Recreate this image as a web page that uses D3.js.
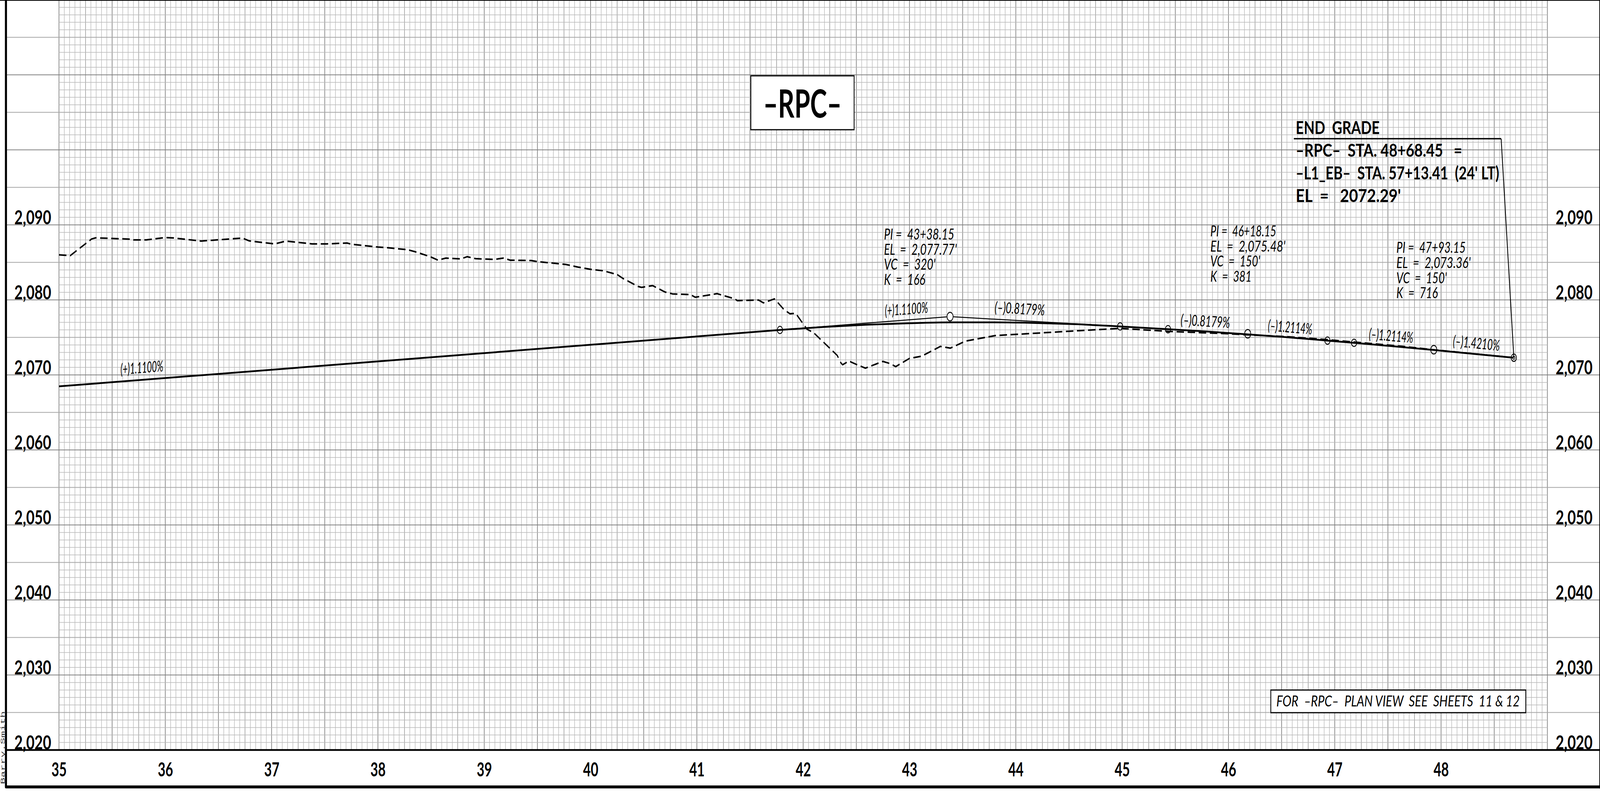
<!DOCTYPE html>
<html>
<head>
<meta charset="utf-8">
<script src="https://d3js.org/d3.v7.min.js"></script>
<style>
    html, body { margin: 0; padding: 0; background: #fff; overflow: hidden; }
    svg { display: block; }
    text { white-space: pre; fill: #000; }
</style>
</head>
<body>
<script>
// finished grade, station (x100 ft) / elevation (ft)
var gradeStations = [35, 41.78, 42.2, 42.6, 43, 43.4, 43.8, 44.2, 44.6, 44.98, 45.43, 45.8, 46.18, 46.55, 46.93, 47.18, 47.55, 47.93, 48.3, 48.68];
var gradeElevs = [2068.47, 2075.99, 2076.39, 2076.69, 2076.89, 2077.0, 2077.0, 2076.92, 2076.74, 2076.46, 2076.09, 2075.78, 2075.41, 2075.02, 2074.57, 2074.27, 2073.82, 2073.32, 2072.81, 2072.29];

// tangents through the PIs
var tangentStations = [41.78, 43.3815, 44.98];
var tangentElevs = [2075.99, 2077.77, 2076.46];

// existing ground, dashed
var groundStations = [35, 35.106, 35.307, 35.344, 35.667, 35.7, 35.82, 36, 36.08, 36.336, 36.725, 36.79, 37.03, 37.135, 37.38, 37.52, 37.71, 37.75, 38, 38.09, 38.275, 38.35, 38.49, 38.565, 38.64, 38.78, 38.84, 38.92, 39.1, 39.18, 39.245, 39.44, 39.5, 39.765, 39.88, 40, 40.12, 40.25, 40.3, 40.445, 40.48, 40.585, 40.7, 40.77, 40.94, 40.985, 41.19, 41.357, 41.38, 41.58, 41.626, 41.73, 41.82, 41.875, 41.93, 42.035, 42.1, 42.32, 42.355, 42.37, 42.43, 42.5, 42.585, 42.75, 42.82, 42.87, 43, 43.115, 43.29, 43.385, 43.525, 43.81, 44, 44.6, 44.98, 45.44, 45.98, 46.18, 46.55, 46.93, 47.17, 47.64, 47.93, 48.68];
var groundElevs = [2086, 2085.9, 2088.12, 2088.27, 2088.1, 2088, 2088, 2088.3, 2088.25, 2087.84, 2088.24, 2087.86, 2087.46, 2087.84, 2087.46, 2087.46, 2087.58, 2087.42, 2087.04, 2086.95, 2086.7, 2086.42, 2085.77, 2085.3, 2085.57, 2085.46, 2085.76, 2085.49, 2085.4, 2085.57, 2085.29, 2085.25, 2085.1, 2084.73, 2084.38, 2084.07, 2083.88, 2083.38, 2082.9, 2081.8, 2081.67, 2081.9, 2081.05, 2080.8, 2080.7, 2080.35, 2080.83, 2080.14, 2079.9, 2079.98, 2079.6, 2080.14, 2078.7, 2078.15, 2078.2, 2076.1, 2075.6, 2072.6, 2071.6, 2071.35, 2071.85, 2071.4, 2070.9, 2071.8, 2071.5, 2071.1, 2072.2, 2072.5, 2073.8, 2073.57, 2074.5, 2075.25, 2075.4, 2075.9, 2076.2, 2075.8, 2075.5, 2075.34, 2075.1, 2074.7, 2074.4, 2073.8, 2073.35, 2072.3];

// circles on the profile: BVC / PI / EVC
var markStations = [41.7815, 43.3815, 44.9815, 45.4315, 46.1815, 46.9315, 47.1815, 47.9315, 48.6845];
var markElevs = [2075.99, 2077.77, 2076.46, 2076.09, 2075.48, 2074.57, 2074.27, 2073.36, 2072.29];
var markIsPi = [false, true, false, false, true, false, false, true, false];

// vertical curve data
var piStations = ["43+38.15", "46+18.15", "47+93.15"];
var piElevs = ["2,077.77'", "2,075.48'", "2,073.36'"];
var piCurves = ["320'", "150'", "150'"];
var piKs = ["166", "381", "716"];
var piLabelStations = [42.76, 45.83, 47.58];
var piLabelElevs = [2088.05, 2088.46, 2086.27];

// grade labels
var gradeLabels = ["(+)1.1100%", "(+)1.1100%", "(\u2013)0.8179%", "(\u2013)0.8179%", "(\u2013)1.2114%", "(\u2013)1.2114%", "(\u2013)1.4210%"];
var gradeValues = [1.11, 1.11, -0.8179, -0.8179, -1.2114, -1.2114, -1.421];
var gradeLabelStations = [35.58, 42.77, 43.80, 45.55, 46.37, 47.32, 48.11];
var gradeLabelElevs = [2070.03, 2077.84, 2078.31, 2076.64, 2075.9, 2074.76, 2073.83];

var endGradeLines = ["END  GRADE", "\u2013RPC\u2013  STA. 48+68.45   =", "\u2013L1_EB\u2013  STA. 57+13.41  (24' LT)", "EL  =   2072.29'"];
var endLeaderStations = [46.615, 48.565, 48.6845];
var endLeaderElevs = [2101.48, 2101.48, 2072.29];

var stationTicks = d3.range(35, 49);
var elevTicks = d3.range(2020, 2100, 10);

// the drawing is laid out in sheet units, the viewBox fits it to the window
var width = 5779, height = 2027;
var plot = { left: 213, right: 5589, top: -0.5, bottom: 1919.5 };
var labelFont = "Lato, 'Noto Sans', sans-serif";

var x = d3.scaleLinear().domain([35, 49]).range([plot.left, plot.right]);
var y = d3.scaleLinear().domain([2020, 2120]).range([plot.bottom, plot.top]);

var svg = d3.select("body").append("svg")
    .attr("width", window.innerWidth)
    .attr("height", window.innerHeight)
    .attr("viewBox", "0 0 " + width + " " + height)
    .attr("preserveAspectRatio", "none");

svg.append("rect").attr("width", width).attr("height", height).attr("fill", "#fff");

// small user name down the left margin
svg.append("text")
    .attr("transform", "translate(17.5,2007) rotate(-90)")
    .attr("font-family", "'Liberation Mono', monospace")
    .attr("font-size", 21)
    .attr("textLength", 187)
    .attr("lengthAdjust", "spacingAndGlyphs")
    .attr("opacity", 0.8)
    .text("Barry.Smith");

// grid paper: 5 ft by 1 ft cells
var grid = svg.append("g").attr("fill", "none");

function vStyle(i) {
    if (i % 10 == 0) return { c: "#7f7f7f", w: 2.4 };
    if (i % 5 == 0) return { c: "#9a9a9a", w: 2.2 };
    return { c: "#b8b8b8", w: 1.9 };
}
function hStyle(i) {
    if (i % 10 == 0) return { c: "#808080", w: 2.2 };
    if (i % 5 == 0) return { c: "#a6a6a6", w: 2 };
    return { c: "#b8b8b8", w: 1.5 };
}

grid.selectAll("line.v")
    .data(d3.range(0, 281))
    .enter().append("line")
    .attr("class", "v")
    .attr("x1", function(d) { return x(35 + d * 0.05); })
    .attr("x2", function(d) { return x(35 + d * 0.05); })
    .attr("y1", 0)
    .attr("y2", plot.bottom)
    .attr("stroke", function(d) { return vStyle(d).c; })
    .attr("stroke-width", function(d) { return vStyle(d).w; });

grid.selectAll("line.h")
    .data(d3.range(0, 100))
    .enter().append("line")
    .attr("class", "h")
    .attr("x1", function(d) { return d % 5 == 0 ? 25 : plot.left; })
    .attr("x2", function(d) { return d % 5 == 0 ? width : plot.right; })
    .attr("y1", function(d) { return y(2020 + d); })
    .attr("y2", function(d) { return y(2020 + d); })
    .attr("stroke", function(d) { return hStyle(d).c; })
    .attr("stroke-width", function(d) { return hStyle(d).w; });

// axes
function styleAxis(g, len, dx, dy, anchor) {
    g.select(".domain").remove();
    g.selectAll(".tick line").remove();
    g.attr("font-family", labelFont).attr("font-size", 49);
    g.selectAll(".tick text")
        .attr("x", dx)
        .attr("y", dy)
        .attr("dy", 0)
        .attr("text-anchor", anchor)
        .attr("font-weight", 700)
        .attr("textLength", len)
        .attr("lengthAdjust", "spacingAndGlyphs");
}

svg.append("g")
    .attr("transform", "translate(" + plot.left + ",0)")
    .call(d3.axisLeft(y).tickValues(elevTicks).tickFormat(d3.format(",")))
    .call(styleAxis, 133, -161, -2, "start");

svg.append("g")
    .attr("transform", "translate(" + plot.right + ",0)")
    .call(d3.axisRight(y).tickValues(elevTicks).tickFormat(d3.format(",")))
    .call(styleAxis, 133, 30, -2, "start");

svg.append("g")
    .attr("transform", "translate(0," + plot.bottom + ")")
    .call(d3.axisBottom(x).tickValues(stationTicks).tickFormat(d3.format("d")))
    .call(styleAxis, 55, 0, 67.5, "middle");

// helper for the thin slanted CAD lettering
function cadText(g, str, px, py, size, len) {
    return g.append("text")
        .attr("x", px)
        .attr("y", py)
        .attr("font-family", labelFont)
        .attr("font-size", size)
        .attr("font-style", "italic")
        .attr("font-weight", 400)
        .attr("textLength", len)
        .attr("lengthAdjust", "spacingAndGlyphs")
        .text(str);
}

var pts = function(xs, ys) {
    return xs.map(function(d, i) { return [d, ys[i]]; });
};
var line = d3.line().x(function(d) { return x(d[0]); }).y(function(d) { return y(d[1]); });

// existing ground
svg.append("path")
    .attr("d", line(pts(groundStations, groundElevs)))
    .attr("fill", "none")
    .attr("stroke", "#000")
    .attr("stroke-width", 4)
    .attr("stroke-dasharray", "27,13")
    .attr("stroke-linejoin", "round");

// tangents
svg.append("path")
    .attr("d", line(pts(tangentStations, tangentElevs)))
    .attr("fill", "none")
    .attr("stroke", "#000")
    .attr("stroke-width", 2.5);

// finished grade
svg.append("path")
    .attr("d", line.curve(d3.curveMonotoneX)(pts(gradeStations, gradeElevs)))
    .attr("fill", "none")
    .attr("stroke", "#000")
    .attr("stroke-width", 4.5);
line.curve(d3.curveLinear);

// end of grade leader
svg.append("path")
    .attr("d", line(pts(endLeaderStations.slice(1), endLeaderElevs.slice(1))))
    .attr("fill", "none")
    .attr("stroke", "#000")
    .attr("stroke-width", 3);
svg.append("line")
    .attr("x1", x(endLeaderStations[0]))
    .attr("x2", x(endLeaderStations[1]))
    .attr("y1", y(endLeaderElevs[0]))
    .attr("y2", y(endLeaderElevs[0]))
    .attr("stroke", "#000")
    .attr("stroke-width", 3.5);

// circles on the profile
svg.selectAll("circle.mark")
    .data(markStations)
    .enter().append("circle")
    .attr("class", "mark")
    .attr("cx", function(d) { return x(d); })
    .attr("cy", function(d, i) { return y(markElevs[i]); })
    .attr("r", function(d, i) { return markIsPi[i] ? 11 : 9.5; })
    .attr("fill", function(d, i) { return i == 1 ? "#fff" : "none"; })
    .attr("stroke", "#000")
    .attr("stroke-width", 2.5);
svg.append("circle")
    .attr("cx", x(markStations[8]))
    .attr("cy", y(markElevs[8]))
    .attr("r", 4)
    .attr("fill", "none")
    .attr("stroke", "#000")
    .attr("stroke-width", 2);

// PI notes
var piWidths = [[254, 263, 186, 149], [238, 271, 180, 149], [250, 268, 182, 150]];
piStations.forEach(function(s, i) {
    var g = svg.append("g");
    var rows = ["PI =  " + s, "EL  =  " + piElevs[i], "VC  =  " + piCurves[i], "K  =  " + piKs[i]];
    rows.forEach(function(r, j) {
        cadText(g, r, x(piLabelStations[i]), y(piLabelElevs[i]) + j * 38.7, 39, piWidths[i][j]);
    });
});

// grade labels sit on the same slope as the line they describe
var gradeWidths = [155, 156, 181, 178, 160, 160, 169];
gradeLabels.forEach(function(s, i) {
    var a = -Math.atan(gradeValues[i] * 19.2 / 384) * 180 / Math.PI;
    var px = x(gradeLabelStations[i]), py = y(gradeLabelElevs[i]);
    cadText(svg, s, px, py, 39, gradeWidths[i])
        .attr("transform", "rotate(" + a + "," + px + "," + py + ")");
});

// END GRADE note
var endLabelBase = [343, 401, 458.6, 517], endLabelLen = [303, 601, 735, 380];
endGradeLines.forEach(function(s, i) {
    svg.append("text")
        .attr("x", 4680)
        .attr("y", endLabelBase[i])
        .attr("font-family", labelFont)
        .attr("font-size", 46)
        .attr("font-weight", 700)
        .attr("textLength", endLabelLen[i])
        .attr("lengthAdjust", "spacingAndGlyphs")
        .text(s);
});

// title box
svg.append("rect")
    .attr("x", 2712).attr("y", 194)
    .attr("width", 373).attr("height", 138)
    .attr("fill", "#fff").attr("stroke", "#000").attr("stroke-width", 3);
svg.append("text")
    .attr("x", 2757).attr("y", 301.5)
    .attr("font-family", labelFont)
    .attr("font-size", 100)
    .attr("font-weight", 700)
    .attr("textLength", 283)
    .attr("lengthAdjust", "spacingAndGlyphs")
    .text("\u2013RPC\u2013");

// sheet reference box
svg.append("rect")
    .attr("x", 4590).attr("y", 1766)
    .attr("width", 921).attr("height", 58)
    .attr("fill", "#fff").attr("stroke", "#000").attr("stroke-width", 3);
cadText(svg, "FOR  \u2013RPC\u2013  PLAN VIEW  SEE  SHEETS  11 & 12", 4610, 1808, 39, 879);

// sheet frame
svg.append("path")
    .attr("d", "M21.5,0V2014H" + width)
    .attr("fill", "none").attr("stroke", "#000").attr("stroke-width", 7.5)
    .attr("stroke-linejoin", "round");
svg.append("line")
    .attr("x1", 0).attr("x2", width).attr("y1", 1).attr("y2", 1)
    .attr("stroke", "#000").attr("stroke-width", 2);
svg.append("line")
    .attr("x1", width - 1).attr("x2", width - 1).attr("y1", 0).attr("y2", 2018)
    .attr("stroke", "#000").attr("stroke-width", 3);
svg.append("line")
    .attr("x1", 25).attr("x2", width).attr("y1", plot.bottom).attr("y2", plot.bottom)
    .attr("stroke", "#000").attr("stroke-width", 4.5);
</script>
</body>
</html>
